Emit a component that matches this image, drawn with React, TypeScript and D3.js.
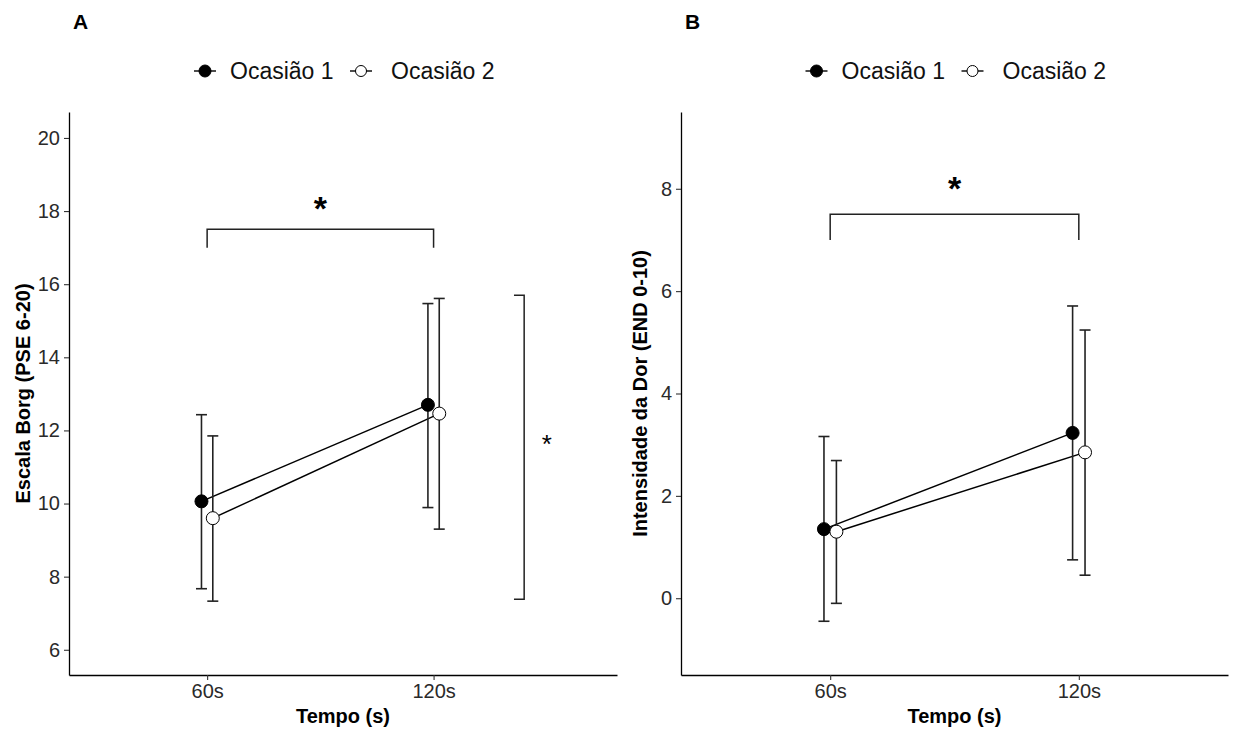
import React, { useEffect, useRef } from 'react';
import * as d3 from 'd3';

const times = ["60s", "120s"];
const occasions = ["Ocasião 1", "Ocasião 2"];

// Painel A - Escala Borg
const borgMean1 = [10.06, 12.70];
const borgLow1 = [7.67, 9.89];
const borgHigh1 = [12.43, 15.47];
const borgMean2 = [9.60, 12.46];
const borgLow2 = [7.33, 9.30];
const borgHigh2 = [11.85, 15.61];
const borgTicks = [6, 8, 10, 12, 14, 16, 18, 20];

// Painel B - Intensidade da dor
const dorMean1 = [1.35, 3.23];
const dorLow1 = [-0.45, 0.75];
const dorHigh1 = [3.16, 5.71];
const dorMean2 = [1.30, 2.85];
const dorLow2 = [-0.10, 0.45];
const dorHigh2 = [2.69, 5.24];
const dorTicks = [0, 2, 4, 6, 8];

const FONT = "'Liberation Sans', Arial, sans-serif";

interface PanelCfg {
  label: string;
  left: number;
  right: number;
  xDomain: [number, number];
  yDomain: [number, number];
  yTicks: number[];
  yTitle: string;
  yTitleX: number;
  series: { mean: number[]; low: number[]; high: number[] }[];
  bracketY: [number, number];
  starY: number;
  vBracket?: { x: number; tick: number; y0: number; y1: number; starX: number; starY: number };
}

const panels: PanelCfg[] = [
  {
    label: "A",
    left: 69,
    right: 617,
    xDomain: [0.39, 2.81],
    yDomain: [5.31, 20.71],
    yTicks: borgTicks,
    yTitle: "Escala Borg (PSE 6-20)",
    yTitleX: 23,
    series: [
      { mean: borgMean1, low: borgLow1, high: borgHigh1 },
      { mean: borgMean2, low: borgLow2, high: borgHigh2 },
    ],
    bracketY: [17.5, 17.0],
    starY: 18.2,
    vBracket: { x: 2.4, tick: 0.045, y0: 15.7, y1: 7.38, starX: 2.5, starY: 11.7 },
  },
  {
    label: "B",
    left: 681,
    right: 1228,
    xDomain: [0.4, 2.6],
    yDomain: [-1.5, 9.5],
    yTicks: dorTicks,
    yTitle: "Intensidade da Dor (END 0-10)",
    yTitleX: 640,
    series: [
      { mean: dorMean1, low: dorLow1, high: dorHigh1 },
      { mean: dorMean2, low: dorLow2, high: dorHigh2 },
    ],
    bracketY: [7.5, 7.0],
    starY: 8.1,
  },
];

const TOP = 112;
const BOTTOM = 675;
const dodge = [-0.025, 0.025];

const App: React.FC = () => {
  const svgRef = useRef<SVGSVGElement>(null);

  useEffect(() => {
    if (!svgRef.current) return;
    const svg = d3.select(svgRef.current);
    svg.selectAll("*").remove();

    panels.forEach((p) => {
      const x = d3.scaleLinear().domain(p.xDomain).range([p.left, p.right]);
      const y = d3.scaleLinear().domain(p.yDomain).range([BOTTOM, TOP]);
      const g = svg.append("g");
      const cx = (p.left + p.right) / 2;

      // panel tag
      g.append("text").attr("x", p.left + 4).attr("y", 29)
        .attr("font-family", FONT).attr("font-weight", "bold").attr("font-size", 21)
        .text(p.label);

      // legend
      const lg = g.append("g").attr("transform", `translate(${cx}, 71)`);
      const keyPos = [-138, 18];
      const textPos = [-113, 48];
      occasions.forEach((name, i) => {
        const kx = keyPos[i];
        lg.append("line").attr("x1", kx - 11).attr("x2", kx + 11).attr("y1", 0).attr("y2", 0)
          .attr("stroke", "#000").attr("stroke-width", 1.4);
        lg.append("circle").attr("cx", kx).attr("cy", 0).attr("r", i === 0 ? 6 : 5.5)
          .attr("fill", i === 0 ? "#000" : "#fff").attr("stroke", "#000").attr("stroke-width", 1);
        lg.append("text").attr("x", textPos[i]).attr("y", 8)
          .attr("font-family", FONT).attr("font-size", 23).attr("fill", "#111")
          .text(name);
      });

      // axes
      const yAxis = g.append("g").attr("transform", `translate(${p.left},0)`)
        .call(d3.axisLeft(y).tickValues(p.yTicks).tickSize(5).tickPadding(4).tickSizeOuter(0));
      yAxis.select(".domain").attr("stroke-width", 1.3);
      yAxis.selectAll(".tick line").attr("stroke-width", 1.1).attr("stroke", "#333");
      yAxis.selectAll(".tick text").attr("font-family", FONT).attr("font-size", 20).attr("fill", "#2a2a2a");

      const xAxis = g.append("g").attr("transform", `translate(0,${BOTTOM})`)
        .call(d3.axisBottom(x).tickValues([1, 2]).tickFormat((d) => times[(d as number) - 1])
          .tickSize(5).tickPadding(4).tickSizeOuter(0));
      xAxis.select(".domain").attr("stroke-width", 1.3);
      xAxis.selectAll(".tick line").attr("stroke-width", 1.1).attr("stroke", "#333");
      xAxis.selectAll(".tick text").attr("font-family", FONT).attr("font-size", 20).attr("fill", "#2a2a2a");

      // axis titles
      g.append("text").attr("x", cx).attr("y", 723).attr("text-anchor", "middle")
        .attr("font-family", FONT).attr("font-weight", "bold").attr("font-size", 20)
        .text("Tempo (s)");
      g.append("text")
        .attr("transform", `translate(${p.yTitleX}, ${(TOP + BOTTOM) / 2}) rotate(-90)`)
        .attr("text-anchor", "middle").attr("dy", "0.35em")
        .attr("font-family", FONT).attr("font-weight", "bold").attr("font-size", 20)
        .text(p.yTitle);

      // lines
      const line = d3.line<[number, number]>().x((d) => x(d[0])).y((d) => y(d[1]));
      p.series.forEach((s, si) => {
        const pts: [number, number][] = s.mean.map((m, i) => [i + 1 + dodge[si], m]);
        g.append("path").attr("d", line(pts)).attr("fill", "none")
          .attr("stroke", "#000").attr("stroke-width", 1.5);
      });

      // error bars
      p.series.forEach((s, si) => {
        s.mean.forEach((_, i) => {
          const px = x(i + 1 + dodge[si]);
          const eg = g.append("g").attr("stroke", "#222").attr("stroke-width", 1.6);
          eg.append("line").attr("x1", px).attr("x2", px).attr("y1", y(s.low[i])).attr("y2", y(s.high[i]));
          eg.append("line").attr("x1", px - 5.5).attr("x2", px + 5.5).attr("y1", y(s.low[i])).attr("y2", y(s.low[i]));
          eg.append("line").attr("x1", px - 5.5).attr("x2", px + 5.5).attr("y1", y(s.high[i])).attr("y2", y(s.high[i]));
        });
      });

      // points
      p.series.forEach((s, si) => {
        s.mean.forEach((m, i) => {
          g.append("circle").attr("cx", x(i + 1 + dodge[si])).attr("cy", y(m)).attr("r", 6.5)
            .attr("fill", si === 0 ? "#000" : "#fff").attr("stroke", "#000").attr("stroke-width", 1);
        });
      });

      // horizontal bracket
      g.append("path")
        .attr("d", `M${x(1)},${y(p.bracketY[1])}V${y(p.bracketY[0])}H${x(2)}V${y(p.bracketY[1])}`)
        .attr("fill", "none").attr("stroke", "#222").attr("stroke-width", 1.5);
      g.append("text").attr("x", x(1.5)).attr("y", y(p.starY) + 16).attr("text-anchor", "middle")
        .attr("font-family", FONT).attr("font-weight", "bold").attr("font-size", 34)
        .text("*");

      // vertical bracket
      if (p.vBracket) {
        const v = p.vBracket;
        g.append("path")
          .attr("d", `M${x(v.x - v.tick)},${y(v.y0)}H${x(v.x)}V${y(v.y1)}H${x(v.x - v.tick)}`)
          .attr("fill", "none").attr("stroke", "#222").attr("stroke-width", 1.5);
        g.append("text").attr("x", x(v.starX)).attr("y", y(v.starY) + 12).attr("text-anchor", "middle")
          .attr("font-family", FONT).attr("font-size", 26)
          .text("*");
      }
    });
  }, []);

  return (
    <svg ref={svgRef} width={1234} height={729}
      style={{ position: 'absolute', left: 0, top: 0, background: '#fff' }} />
  );
};

export default App;
